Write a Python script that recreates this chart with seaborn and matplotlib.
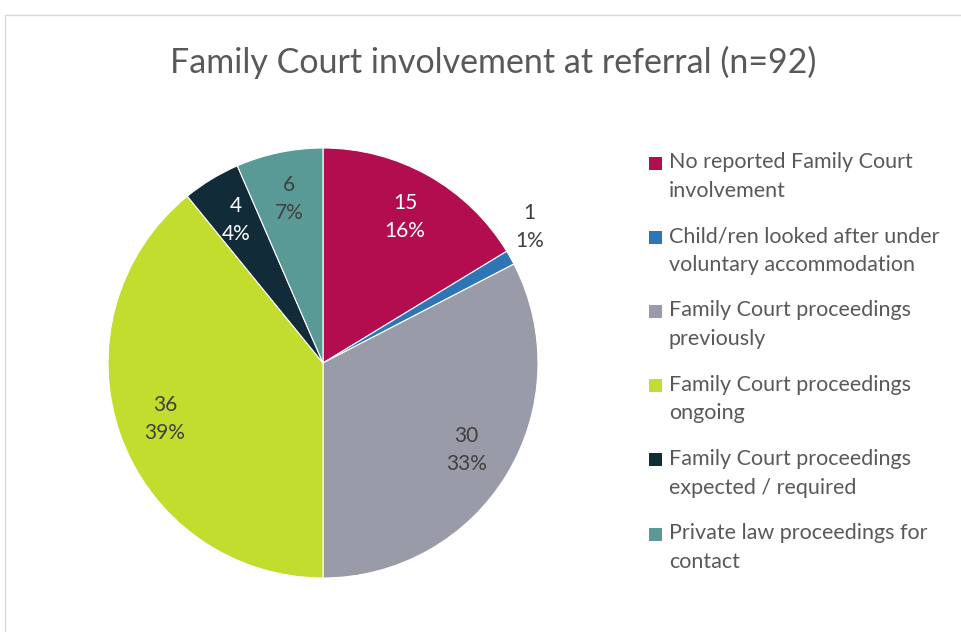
import matplotlib
matplotlib.use("Agg")
import matplotlib.pyplot as plt
import seaborn as sns
import numpy as np
from matplotlib.lines import Line2D
from matplotlib.patches import Rectangle

categories = [
    "No reported Family Court\ninvolvement",
    "Child/ren looked after under\nvoluntary accommodation",
    "Family Court proceedings\npreviously",
    "Family Court proceedings\nongoing",
    "Family Court proceedings\nexpected / required",
    "Private law proceedings for\ncontact",
]
counts = [15, 1, 30, 36, 4, 6]
colors = ["#B10D4F", "#2E75B6", "#9A9BA8", "#C3DD2E", "#112B38", "#5A9A96"]
label_colors = ["white", "#404040", "#404040", "#404040", "white", "#404040"]

sns.set_theme(style="white")
plt.rcParams["font.family"] = ["Lato", "DejaVu Sans"]

W, H = 961, 632
fig = plt.figure(figsize=(W / 100, H / 100), dpi=100)
ax = fig.add_axes([108 / W, 1 - 578 / H, 430 / W, 430 / H])

wedges, _ = ax.pie(counts, colors=colors, startangle=90, counterclock=False,
                   wedgeprops=dict(linewidth=0.8, edgecolor="white"))
ax.set_xlim(-1, 1)
ax.set_ylim(-1, 1)
ax.set_aspect("equal")

total = sum(counts)
for w, v, tc in zip(wedges, counts, label_colors):
    mid = np.deg2rad((w.theta1 + w.theta2) / 2)
    pct = round(v / total * 100)
    if v / total < 0.03:
        # small slice: label sits outside, nudged up a little like the original
        mid += np.deg2rad(4)
        r, col = 1.15, "#404040"
    else:
        r, col = 0.78, tc
    ax.text(r * np.cos(mid), r * np.sin(mid), f"{v}\n{pct}%", ha="center", va="center",
            fontsize=15, color=col, linespacing=1.5, clip_on=False)

fig.text(493 / W, 1 - 62 / H, "Family Court involvement at referral (n=92)",
         fontsize=24.5, color="#595959", ha="center", va="center")

# legend, drawn by hand so the swatch lines up with the first text line
for i, (lab, c) in enumerate(zip(categories, colors)):
    yc = 163 + i * 74.2
    fig.add_artist(Rectangle((649 / W, 1 - (yc + 6.5) / H), 13 / W, 13 / H,
                             transform=fig.transFigure, facecolor=c, edgecolor="none"))
    fig.text(669 / W, 1 - (yc - 11) / H, lab, fontsize=15.5, color="#595959",
             ha="left", va="top", linespacing=1.55)

# chart border (partially visible)
fig.add_artist(Line2D([5 / W, 1], [1 - 15 / H, 1 - 15 / H], color="#D9D9D9", lw=1))
fig.add_artist(Line2D([5 / W, 5 / W], [0, 1 - 15 / H], color="#D9D9D9", lw=1))

fig.savefig("out.png", dpi=100, facecolor="white")
